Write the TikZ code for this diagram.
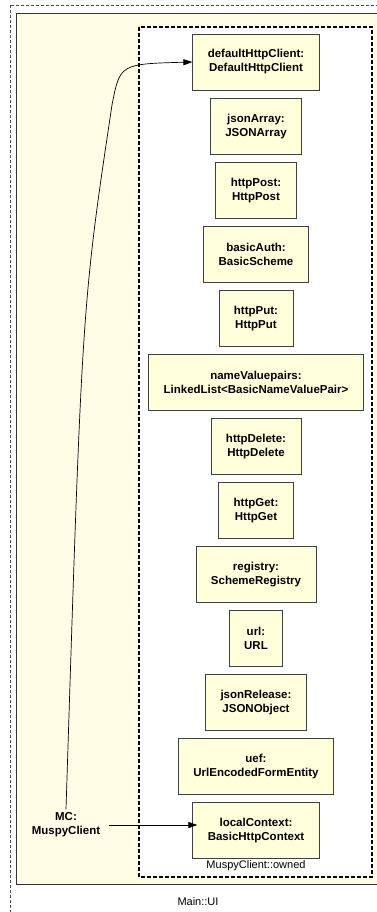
\documentclass[tikz,border=0pt]{standalone}
\usepackage{fontspec}
\setmainfont{Liberation Sans}
\usetikzlibrary{positioning, arrows.meta}
\definecolor{uibg}{RGB}{255,253,230}
\definecolor{objfill}{RGB}{255,255,219}

\begin{document}
\begin{tikzpicture}[x=1pt, y=-1pt,
    objbox/.style={rectangle, draw=black!75, fill=objfill, line width=0.8pt, minimum height=56pt, inner xsep=15pt, align=center, font=\fontsize{11.5}{14}\selectfont\bfseries},
    link/.style={-{Triangle[length=9pt, width=6pt]}, line width=0.7pt}]
    \useasboundingbox (0,0) rectangle (376,912);
    % Paquet Main::UI
    \draw[gray!60!black, dash pattern=on 3pt off 2pt, line width=0.6pt] (10,5) rectangle (392,930);
    \draw[fill=uibg, draw=black!80, line width=0.8pt] (16,13) rectangle (394,884);
    \node[font=\fontsize{11}{13}\selectfont] (uilbl) at (198,902) {Main::UI};
    % Partie owned
    \draw[fill=white, line width=1.6pt, dash pattern=on 4pt off 2pt] (139,27) rectangle (372,877);
    \node[font=\fontsize{11}{13}\selectfont] (ownlbl) at (256,866) {MuspyClient::owned};
    % Objets
    \node[objbox] (client) at (256,62) {defaultHttpClient:\\DefaultHttpClient};
    \node[objbox, below=7.25pt of client] (jarray) {jsonArray:\\JSONArray};
    \node[objbox, below=7.25pt of jarray] (post) {httpPost:\\HttpPost};
    \node[objbox, below=7.25pt of post] (auth) {basicAuth:\\BasicScheme};
    \node[objbox, below=7.25pt of auth] (put) {httpPut:\\HttpPut};
    \node[objbox, below=7.25pt of put] (pairs) {nameValuepairs:\\LinkedList<BasicNameValuePair>};
    \node[objbox, below=7.25pt of pairs] (delete) {httpDelete:\\HttpDelete};
    \node[objbox, below=7.25pt of delete] (get) {httpGet:\\HttpGet};
    \node[objbox, below=7.25pt of get] (registry) {registry:\\SchemeRegistry};
    \node[objbox, below=7.25pt of registry] (url) {url:\\URL};
    \node[objbox, below=7.25pt of url] (release) {jsonRelease:\\JSONObject};
    \node[objbox, below=7.25pt of release] (uef) {uef:\\UrlEncodedFormEntity};
    \node[objbox, below=7.25pt of uef] (local) {localContext:\\BasicHttpContext};
    % Client
    \node[align=center, font=\fontsize{11.5}{14}\selectfont\bfseries] (mc) at (66,825) {MC:\\MuspyClient};
    \coordinate (bend) at (112,105);
    \draw[link] (mc.north) .. controls (82,305) .. (bend) .. controls (120,64) .. (client.west);
    \draw[link] ([xshift=5pt]mc.east) -- ([xshift=5pt]mc.east -| local.west);
\end{tikzpicture}
\end{document}
